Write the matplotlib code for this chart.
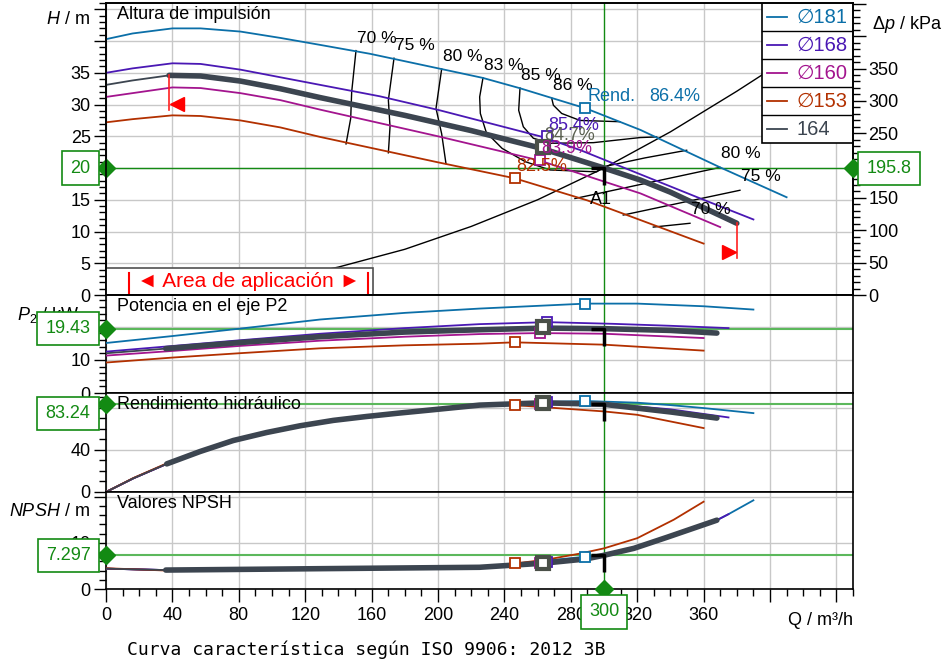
import numpy as np
import matplotlib
matplotlib.use("Agg")
import matplotlib.pyplot as plt
from matplotlib.path import Path
from matplotlib.patches import Rectangle
from matplotlib.ticker import MultipleLocator, FuncFormatter

plt.rcParams['font.family'] = ['Liberation Sans', 'DejaVu Sans']
plt.rcParams['mathtext.fontset'] = 'custom'
plt.rcParams['mathtext.rm'] = 'Liberation Sans'
plt.rcParams['mathtext.it'] = 'Liberation Sans:italic'

# impeller diameters (legend order) and colours
diam = ['181', '168', '160', '153', '164']
col = ['#0b6fa8', '#4a18b4', '#a3148e', '#b23000', '#3c4550']

# head H [m] over flow Q [m3/h]
q_h181 = [0, 16, 40, 57, 81, 105, 129, 159, 202, 227, 249, 269, 289, 322, 370, 410]
h_181 = [40.3, 41.2, 42.0, 42.0, 41.5, 40.5, 39.4, 38.0, 35.6, 34.2, 32.6, 31.0, 29.4, 26.0, 20.1, 15.4]
q_h168 = [0, 16, 40, 57, 81, 105, 129, 165, 201, 263, 286, 322, 360, 390]
h_168 = [35.0, 35.7, 36.5, 36.4, 35.5, 34.3, 33.1, 31.3, 29.1, 24.9, 22.8, 19.0, 15.0, 11.9]
q_h160 = [0, 16, 40, 57, 81, 105, 129, 200, 237, 261, 322, 370]
h_160 = [31.2, 31.8, 32.7, 32.6, 31.8, 30.7, 29.2, 25.0, 22.7, 21.2, 16.0, 10.7]
q_h153 = [0, 16, 40, 57, 81, 105, 129, 200, 246, 290, 322, 360]
h_153 = [27.2, 27.7, 28.3, 28.2, 27.5, 26.4, 24.9, 20.9, 18.4, 14.9, 11.8, 8.1]
q_h164 = [0, 16, 38, 57, 81, 105, 129, 180, 220, 261, 300, 322, 340, 380]
h_164 = [33.1, 33.8, 34.6, 34.5, 33.7, 32.5, 31.1, 28.3, 25.9, 23.2, 20.0, 18.1, 16.2, 11.3]

# shaft power P2 [kW]
q_p181 = [0, 40, 80, 129, 180, 225, 289, 320, 360, 390]
p_181 = [15.1, 17.2, 19.4, 22.2, 24.2, 25.5, 27.0, 27.0, 26.2, 25.2]
q_p168 = [0, 40, 80, 129, 180, 225, 266, 305, 340, 375]
p_168 = [12.5, 14.2, 15.9, 17.9, 19.6, 20.8, 21.4, 20.9, 20.3, 19.6]
q_p160 = [0, 40, 80, 129, 180, 225, 261, 300, 360]
p_160 = [11.3, 12.7, 14.2, 15.8, 17.0, 17.8, 18.1, 17.9, 16.6]
q_p153 = [0, 40, 80, 129, 180, 225, 246, 300, 360]
p_153 = [9.2, 10.7, 12.0, 13.5, 14.4, 14.9, 15.3, 14.6, 12.8]
q_p164 = [0, 36, 80, 129, 180, 225, 264, 300, 340, 368]
p_164 = [12.0, 13.4, 15.2, 17.0, 18.4, 19.1, 19.6, 19.43, 18.9, 18.1]

# hydraulic efficiency [%]
q_e181 = [0, 16.5, 36.6, 56.6, 76.7, 96.8, 117, 137, 157, 177, 197, 225, 255, 289, 320, 340, 360, 390]
e_181 = [0, 13, 26.7, 38.4, 48.9, 56.5, 62.9, 68, 71.7, 75, 78.1, 82.2, 85.2, 86.4, 84.8, 82.5, 79.7, 74.9]
q_e168 = [0, 16.5, 36.6, 56.6, 76.7, 96.8, 117, 137, 157, 177, 197, 225, 266, 300, 340, 375]
e_168 = [0, 13, 26.7, 38.4, 48.9, 56.5, 62.9, 68, 71.7, 75, 78.1, 82.5, 85.4, 84.0, 78.5, 70.8]
q_e160 = [0, 16.5, 36.6, 56.6, 76.7, 96.8, 117, 137, 157, 177, 197, 225, 261, 300, 340, 360]
e_160 = [0, 13, 26.7, 38.4, 48.9, 56.5, 62.9, 68, 71.7, 75, 78.1, 82.3, 83.9, 82.0, 75.5, 70.2]
q_e153 = [0, 16.5, 36.6, 56.6, 76.7, 96.8, 117, 137, 157, 177, 197, 225, 246, 300, 320, 360]
e_153 = [0, 13.3, 27.2, 38.9, 49.3, 56.8, 63.1, 68.1, 71.8, 75, 78, 82.0, 82.5, 76.5, 73.3, 60.7]
q_e164 = [0, 16.5, 36.6, 56.6, 76.7, 96.8, 117, 137, 157, 177, 197, 225, 263, 300, 340, 368]
e_164 = [0, 13, 26.7, 38.4, 48.9, 56.5, 62.9, 68, 71.7, 75, 78.1, 82.5, 84.7, 83.24, 76.0, 70.2]

# NPSH [m]
q_n181 = [0, 36, 129, 225, 289, 300, 318, 338, 368, 375, 390]
n_181 = [4.4, 4.1, 4.4, 4.7, 7.0, 7.5, 8.8, 11.2, 14.9, 16.2, 19.2]
q_n168 = [0, 36, 129, 225, 266, 289, 300, 318, 338, 368, 375]
n_168 = [4.4, 4.1, 4.4, 4.7, 5.7, 6.5, 7.3, 8.8, 11.2, 14.9, 16.2]
q_n160 = [0, 36, 129, 225, 261, 289, 300, 318, 338, 360]
n_160 = [4.4, 4.1, 4.4, 4.7, 5.6, 6.4, 7.2, 8.7, 11.2, 13.8]
q_n153 = [0, 36, 129, 225, 246, 266, 286, 300, 320, 342, 360]
n_153 = [4.5, 4.0, 4.2, 4.7, 5.5, 6.4, 7.7, 8.8, 11.0, 15.0, 18.9]
q_n164 = [0, 36, 129, 225, 264, 289, 300, 318, 338, 368]
n_164 = [4.4, 4.1, 4.4, 4.7, 5.6, 6.5, 7.3, 8.8, 11.2, 14.9]

# best efficiency points (order of diam)
bep_q = [288.6, 265.7, 261.4, 246.4, 263.3]
bep_h = [29.4, 25.0, 21.3, 18.5, 23.3]
bep_p = [27.0, 21.4, 18.1, 15.3, 19.8]
bep_e = [86.4, 85.4, 83.9, 82.5, 84.7]
bep_n = [7.0, 5.8, 5.6, 5.6, 5.7]
bep_txt = ['86.4%', '85.4%', '83.9%', '82.5%', '84.7%']

# iso-efficiency lines in the H-Q field
iso70_q = [150.6, 148.0, 147.4, 144.6]
iso70_h = [38.5, 32.0, 27.8, 23.8]
iso75_q = [173.5, 170.1, 171.1, 170.1]
iso75_h = [37.3, 30.7, 26.5, 22.4]
iso80_q = [202.2, 198.8, 202.2, 204.8]
iso80_h = [35.6, 29.4, 25.4, 20.7]
iso83_q = [227.1, 225.1, 225.5, 229.1, 238.6, 252.6, 267.5, 295.6, 299.6, 324.7, 349.8]
iso83_h = [34.2, 31.2, 28.6, 25.6, 23.1, 21.0, 19.7, 19.4, 20.2, 21.6, 22.8]
iso85_q = [249.4, 248.6, 251.4, 257.4, 267.5, 293.6, 321.7, 331.7]
iso85_h = [32.6, 29.1, 26.5, 24.7, 23.9, 24.0, 24.8, 24.9]
iso86_q = [268.5, 269.5, 274.5, 285.5, 309.6]
iso86_h = [31.0, 29.9, 28.6, 27.5, 27.3]
iso80r_q = [282.5, 369.9]
iso80r_h = [15.2, 20.1]
iso75r_q = [311.6, 381.9]
iso75r_h = [12.6, 16.5]
iso70r_q = [329.7, 351.8]
iso70r_h = [10.7, 11.3]

# system curve
q_sys = [100, 140, 180, 220, 260, 300, 340, 380, 396]
h_sys = [2.2, 4.4, 7.2, 10.8, 15.0, 20.0, 25.7, 32.1, 34.8]

# operating point A1 and application range of the 164 impeller
q_op, h_op, p_op, e_op, n_op, dp_op = 300, 20, 19.43, 83.24, 7.297, 195.8
app_q = [38, 380]
app_h = [34.6, 11.3]

green = '#138a13'
green_l = '#5cb85c'

fig = plt.figure(figsize=(9.44, 6.64), dpi=100)
L, W = 106 / 944, 747 / 944


def fbox(t, b):
    return [L, 1 - b / 664, W, (b - t) / 664]


ax_h = fig.add_axes(fbox(3, 295))
ax_p = fig.add_axes(fbox(295, 393))
ax_e = fig.add_axes(fbox(393, 492))
ax_n = fig.add_axes(fbox(492, 589))


def style(ax, ymax, major, minor, labels):
    ax.set_xlim(0, 450)
    ax.set_ylim(0, ymax)
    ax.xaxis.set_major_locator(MultipleLocator(40))
    ax.xaxis.set_minor_locator(MultipleLocator(10))
    ax.yaxis.set_major_locator(MultipleLocator(major))
    ax.yaxis.set_minor_locator(MultipleLocator(minor))
    ax.yaxis.set_major_formatter(FuncFormatter(lambda v, p: f'{v:g}' if v in labels else ''))
    ax.grid(True, which='major', color='#c8c8c8', lw=1)
    ax.tick_params(axis='y', which='major', length=9, width=1, labelsize=13, pad=2)
    ax.tick_params(axis='y', which='minor', length=5, width=1)
    ax.tick_params(axis='x', which='both', length=0, labelbottom=False)
    for s in ax.spines.values():
        s.set_linewidth(1.2)


style(ax_h, 46, 5, 1, [0, 5, 10, 15, 20, 25, 30, 35])
style(ax_p, 29.6, 10, 2, [0, 10, 20])
style(ax_e, 94, 40, 10, [0, 40, 80])
style(ax_n, 21, 10, 2, [0, 10])
ax_n.tick_params(axis='x', which='major', length=9, width=1, labelsize=13, labelbottom=True, pad=4)
ax_n.tick_params(axis='x', which='minor', length=5, width=1)
ax_n.xaxis.set_major_formatter(FuncFormatter(lambda v, p: f'{v:g}' if v <= 360 else ''))

# pressure axis on the right
ax_r = ax_h.twinx()
ax_r.set_ylim(0, 46 * 9.81)
ax_r.yaxis.set_major_locator(MultipleLocator(50))
ax_r.yaxis.set_minor_locator(MultipleLocator(10))
ax_r.yaxis.set_major_formatter(FuncFormatter(lambda v, p: f'{v:g}' if v <= 350 else ''))
ax_r.tick_params(axis='y', which='major', length=9, width=1, labelsize=13, pad=2)
ax_r.tick_params(axis='y', which='minor', length=5, width=1)
for s in ax_r.spines.values():
    s.set_linewidth(1.2)

curves_h = [(q_h181, h_181), (q_h168, h_168), (q_h160, h_160), (q_h153, h_153), (q_h164, h_164)]
curves_p = [(q_p181, p_181), (q_p168, p_168), (q_p160, p_160), (q_p153, p_153), (q_p164, p_164)]
curves_e = [(q_e181, e_181), (q_e168, e_168), (q_e160, e_160), (q_e153, e_153), (q_e164, e_164)]
curves_n = [(q_n181, n_181), (q_n168, n_168), (q_n160, n_160), (q_n153, n_153), (q_n164, n_164)]

for ax, curves, bep in [(ax_h, curves_h, bep_h), (ax_p, curves_p, bep_p),
                        (ax_e, curves_e, bep_e), (ax_n, curves_n, bep_n)]:
    for i, (q, v) in enumerate(curves):
        q = np.array(q)
        v = np.array(v)
        ax.plot(q, v, color=col[i], lw=1.3, zorder=3)
        if i == 4:
            m = (q >= app_q[0] - 3) & (q <= app_q[1])
            ax.plot(q[m], v[m], color=col[i], lw=4, solid_capstyle='round', zorder=4)
            ax.plot(bep_q[i], bep[i], 's', ms=8, mfc='white', mec='#4a5048', mew=3, zorder=6)
        else:
            ax.plot(bep_q[i], bep[i], 's', ms=7.5, mfc='white', mec=col[i], mew=1.3, zorder=5)

# iso-efficiency lines
iso = [(iso70_q, iso70_h, '70 %'), (iso75_q, iso75_h, '75 %'), (iso80_q, iso80_h, '80 %'),
       (iso83_q, iso83_h, '83 %'), (iso85_q, iso85_h, '85 %'), (iso86_q, iso86_h, '86 %')]
for q, h, t in iso:
    ax_h.plot(q, h, color='black', lw=1, zorder=2)
    ax_h.annotate(t, (q[0], h[0]), xytext=(15, 9), textcoords='offset points',
                  ha='center', va='center', fontsize=12.5, zorder=7)
for q, h, t in [(iso80r_q, iso80r_h, '80 %'), (iso75r_q, iso75r_h, '75 %'), (iso70r_q, iso70r_h, '70 %')]:
    ax_h.plot(q, h, color='black', lw=1, zorder=2)
    ax_h.annotate(t, (q[-1], h[-1]), xytext=(15, 10), textcoords='offset points',
                  ha='center', va='center', fontsize=12.5, zorder=7)

ax_h.plot(q_sys, h_sys, color='black', lw=1, zorder=2)

# efficiency labels at best efficiency points
for i in range(5):
    c = '#5a6050' if i == 4 else col[i]
    if i == 0:
        ax_h.annotate('Rend.', (bep_q[i], bep_h[i]), xytext=(2, 8.5), textcoords='offset points',
                      ha='left', va='center', fontsize=13, color=c, zorder=8)
        ax_h.annotate(bep_txt[i], (bep_q[i], bep_h[i]), xytext=(46, 8.5), textcoords='offset points',
                      ha='left', va='center', fontsize=13, color=c, zorder=8)
    else:
        ax_h.annotate(bep_txt[i], (bep_q[i], bep_h[i]), xytext=(1, 8), textcoords='offset points',
                      ha='left', va='center', fontsize=13, color=c, zorder=8)

# application range markers
ax_h.plot([app_q[0], app_q[0]], [app_h[0], app_h[0] - 5.5], color='#ff2020', lw=1.2, zorder=5)
ax_h.plot(app_q[0] + 4.5, app_h[0] - 4.5, marker='<', ms=10, color='red', zorder=5)
ax_h.plot([app_q[1], app_q[1]], [app_h[1], app_h[1] - 5.5], color='#ff2020', lw=1.2, zorder=5)
ax_h.plot(app_q[1] - 4.5, app_h[1] - 4.5, marker='>', ms=10, color='red', zorder=5)

ax_h.add_patch(Rectangle((0, 0), 0.357, 0.0935, transform=ax_h.transAxes, fc='white',
                         ec='#505050', lw=1.2, zorder=9))
ax_h.text(0.1915, 0.047, '◄ Area de aplicación ►', transform=ax_h.transAxes, color='red',
          fontsize=15, ha='center', va='center', zorder=10)
for xb in [0.0308, 0.3507]:
    ax_h.plot([xb, xb], [0, 0.075], transform=ax_h.transAxes, color='red', lw=1.5, zorder=10)

# operating point
corner = Path([(-0.9, 0), (0, 0), (0, -1.2)])
for ax, v in [(ax_h, h_op), (ax_p, p_op), (ax_e, e_op), (ax_n, n_op)]:
    ax.axvline(q_op, color=green, lw=1, zorder=2.5)
    ax.axhline(v, color=green if ax is ax_h else green_l, lw=1 if ax is ax_h else 1.5, zorder=2.5)
    ax.plot(q_op, v, marker=corner, ms=24, mfc='none', mec='black', mew=2.5, zorder=7)
    ax.plot(0, v, marker='D', ms=9, color=green, clip_on=False, zorder=12)
ax_h.annotate('A1', (q_op, h_op), xytext=(-2, -23), textcoords='offset points',
              ha='center', va='center', fontsize=13, zorder=8)

box = dict(boxstyle='square,pad=0.45', fc='white', ec=green, lw=1.2)
for ax, v, t, dy in [(ax_h, h_op, '20', 0), (ax_p, p_op, '19.43', 0),
                     (ax_e, e_op, '83.24', -6.5), (ax_n, n_op, '7.297', 0)]:
    ax.annotate(t, (0, v), xycoords=('axes fraction', 'data'), xytext=(-11.2, dy),
                textcoords='offset points', ha='right', va='center', color=green, fontsize=13,
                bbox=box, zorder=13, annotation_clip=False)
ax_r.plot(1, dp_op, marker='D', ms=9, color=green, clip_on=False, zorder=12,
          transform=ax_r.get_yaxis_transform())
ax_r.annotate(f'{dp_op}', (1, dp_op), xycoords=('axes fraction', 'data'), xytext=(9.7, 0),
              textcoords='offset points', ha='left', va='center', color=green, fontsize=13,
              bbox=box, zorder=13, annotation_clip=False)
ax_n.plot(q_op, 0, marker='D', ms=9, color=green, clip_on=False, zorder=12)
ax_n.annotate(f'{q_op}', (q_op, 0), xytext=(0, -10.4), textcoords='offset points', ha='center',
              va='top', color=green, fontsize=13, bbox=box, zorder=13, annotation_clip=False)

# legend
lx0, row = 0.878, 0.0959
ax_h.add_patch(Rectangle((lx0, 1 - 5 * row), 1 - lx0, 5 * row, transform=ax_h.transAxes,
                         fc='white', ec='black', lw=1.2, zorder=20))
for i, (d, c) in enumerate(zip(diam, col)):
    yc = 1 - (i + 0.5) * row
    ax_h.plot([0.885, 0.911], [yc, yc], transform=ax_h.transAxes, color=c, lw=1.3, zorder=21)
    lab = d if i == 4 else '∅' + d
    ax_h.text(0.925, yc, lab, transform=ax_h.transAxes, color=c, fontsize=14.5, ha='left',
              va='center', zorder=21)
    if i:
        ax_h.plot([lx0, 1], [1 - i * row] * 2, transform=ax_h.transAxes, color='black', lw=1,
                  zorder=21)

# titles and axis labels
for ax, t in [(ax_h, 'Altura de impulsión'), (ax_p, 'Potencia en el eje P2'),
              (ax_e, 'Rendimiento hidráulico'), (ax_n, 'Valores NPSH')]:
    ax.annotate(t, (0, 1), xycoords='axes fraction', xytext=(8, -2), textcoords='offset points',
                fontsize=13, ha='left', va='top', zorder=8)

ax_h.text(-0.021, 0.942, r'$H$ / m', transform=ax_h.transAxes, fontsize=13, ha='right', va='center')
ax_p.text(-0.035, 0.80, r'$P_2$ / kW', transform=ax_p.transAxes, fontsize=13, ha='right',
          va='center', zorder=1)
ax_n.text(-0.021, 0.80, r'$NPSH$ / m', transform=ax_n.transAxes, fontsize=13, ha='right', va='center')
ax_r.text(1.0254, 0.925, r'Δ$p$ / kPa', transform=ax_r.transAxes, fontsize=13, ha='left', va='center')
ax_n.text(1.0, -0.32, 'Q / m³/h', transform=ax_n.transAxes, fontsize=13, ha='right', va='center')

fig.text(366 / 944, 1 - 650 / 664, 'Curva característica según ISO 9906: 2012 3B',
         family='DejaVu Sans Mono', fontsize=13, ha='center', va='center')

fig.savefig('out.png', dpi=100)
